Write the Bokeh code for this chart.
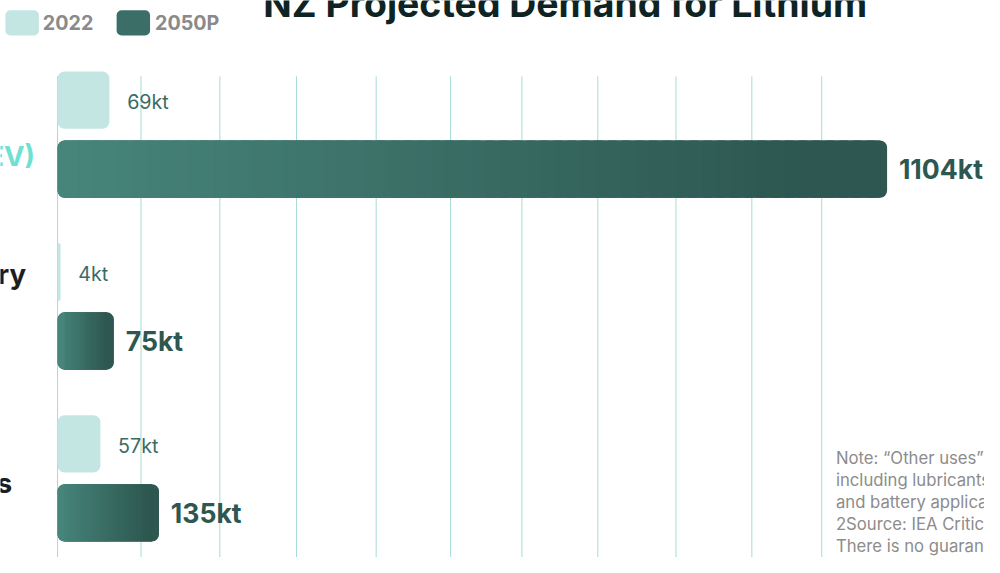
import numpy as np
from bokeh.plotting import figure
from bokeh.models import Range1d, ColumnDataSource
from bokeh.embed import file_html
from bokeh.resources import INLINE
from bokeh.core.properties import value

# ---------------- data ----------------
TITLE = "NZ Projected Demand for Lithium"
CATEGORIES = ["Electric Vehicles (EV)", "Stationary Battery", "Other uses"]
CATEGORY_COLORS = ["#6FE0D2", "#1E1E1E", "#1E1E1E"]
SERIES = ["2022", "2050P"]
DEMAND_2022 = [69, 4, 57]          # kt
DEMAND_2050 = [1104, 75, 135]      # kt
GRID_TICKS = [0, 111, 216, 318, 424, 523, 618, 719, 823, 924, 1017]
NOTE_LINES = [
    "Note: \u201cOther uses\u201d include non-battery applications",
    "including lubricants, glass and ceramics, air treatment",
    "and battery applications outside EVs and storage.",
    "2Source: IEA Critical Minerals Outlook 2024",
    "There is no guarantee that projections will eventuate.",
]

# ---------------- layout / style ----------------
W, H = 984, 557               # figure size
REF_W, REF_H = 1000, 573      # reference picture size
SX, SY = W / REF_W, H / REF_H
ZERO_X = 58                   # ref px of value 0
PX_PER_KT = 0.7636            # ref px per kt
FIRST_ROW_Y = 102.5           # ref px of first bar centre
ROW_PX = 71                   # ref px between bars of one group
GROUP_PITCH = 2.49            # rows between groups
BAR_H = 0.83                  # rows
RADIUS = 7
FONT = "Inter"
LIGHT = "#C4E6E3"
DARK_L = np.array([0x47, 0x85, 0x7B])
DARK_R = np.array([0x2D, 0x57, 0x50])
LABEL_END = [35, 26, 12]      # ref px where the category labels end
LABEL_DY = [22, -33, 5]       # ref px offset from group centre


def dx(px):
    return (px - ZERO_X) / PX_PER_KT


def dy(py):
    return (FIRST_ROW_Y - py) / ROW_PX


def fs(px):
    return f"{px * SX:.1f}px"


def mix(t):
    t = min(1.0, max(0.0, t / 0.9))
    c = DARK_L + (DARK_R - DARK_L) * t
    return "#%02x%02x%02x" % tuple(int(round(v)) for v in c)


p = figure(
    width=W, height=H, output_backend="svg", toolbar_location=None,
    x_range=Range1d(dx(0), dx(REF_W)),
    y_range=Range1d(dy(REF_H), dy(0)),
    x_axis_location=None, y_axis_location=None, min_border=0,
    outline_line_color=None, background_fill_color="white",
)
p.grid.visible = False

# grid lines
p.segment(x0=GRID_TICKS, x1=GRID_TICKS, y0=dy(78), y1=dy(600),
          line_color="#A6DBD6", line_width=1)

n = len(CATEGORIES)
y22 = [-(i * GROUP_PITCH) for i in range(n)]
y50 = [-(i * GROUP_PITCH + 1) for i in range(n)]
rad = int(round(RADIUS * SX))

# 2022 bars
p.hbar(y=y22, left=0, right=DEMAND_2022, height=BAR_H, fill_color=LIGHT,
       line_color=None, border_radius=rad)

# 2050 bars with a left-to-right gradient
p.hbar(y=y50, left=0, right=DEMAND_2050, height=BAR_H, fill_color=mix(1.0),
       line_color=None, border_radius=rad)
p.hbar(y=y50, left=0, right=[v / 2 for v in DEMAND_2050], height=BAR_H,
       fill_color=mix(0.0), line_color=None, border_radius=(rad, 0, 0, rad))
r_kt = RADIUS / PX_PER_KT
L, R, T, B, C = [], [], [], [], []
N = 60
for yy, v in zip(y50, DEMAND_2050):
    edges = np.linspace(r_kt, v - r_kt, N + 1)
    step = edges[1] - edges[0]
    for k in range(N):
        t = ((edges[k] + edges[k + 1]) / 2) / v
        L.append(edges[k])
        R.append(edges[k + 1] + (step * 0.6 if k < N - 1 else 0))
        T.append(yy + BAR_H / 2)
        B.append(yy - BAR_H / 2)
        C.append(mix(t))
p.quad(left=L, right=R, top=T, bottom=B, fill_color=C, line_color=None)

# value labels
p.text(x=DEMAND_2022, y=y22, text=[f"{v}kt" for v in DEMAND_2022],
       x_offset=18 * SX, y_offset=2, text_baseline="middle", text_align="left",
       text_font=value(FONT), text_font_size=fs(20), text_color="#3A6B64")
p.text(x=DEMAND_2050, y=y50, text=[f"{v}kt" for v in DEMAND_2050],
       x_offset=12 * SX, y_offset=0, text_baseline="middle", text_align="left",
       text_font=value(FONT), text_font_size=fs(27), text_font_style="bold",
       text_color="#2D5750")

# category labels (only their right part falls inside the picture)
cat_src = ColumnDataSource(dict(
    x=[0] * n, y=[(a + b) / 2 for a, b in zip(y22, y50)],
    text=CATEGORIES, color=CATEGORY_COLORS,
    xo=[(e - ZERO_X) * SX for e in LABEL_END],
    yo=[d * SY for d in LABEL_DY]))
p.text(x="x", y="y", text="text", source=cat_src, text_color="color",
       x_offset="xo", y_offset="yo", text_align="right", text_baseline="middle",
       text_font=value(FONT), text_font_size=fs(28), text_font_style="bold")

# title
p.text(x=[dx(267)], y=[dy(3)], text=[TITLE], text_baseline="middle",
       text_font=value(FONT), text_font_size=fs(38), text_font_style="bold",
       text_color="#0E2424")

# legend (manual)
p.quad(left=[dx(5)], right=[dx(39)], top=[dy(10)], bottom=[dy(36)],
       fill_color=LIGHT, line_color=None, border_radius=5)
p.quad(left=[dx(118)], right=[dx(152)], top=[dy(10)], bottom=[dy(36)],
       fill_color=mix(0.45), line_color=None, border_radius=5)
p.text(x=[dx(43), dx(157)], y=[dy(23), dy(23)], text=SERIES,
       text_baseline="middle", text_font=value(FONT), text_font_size=fs(20),
       text_font_style="bold", text_color="#8A8A8A")

# note
p.text(x=[dx(849)], y=[dy(460)], text=["\n".join(NOTE_LINES)],
       text_baseline="top", text_font=value(FONT), text_font_size=fs(17),
       text_line_height=1.10, text_color="#8C8C8C")

open("out.html", "w").write(file_html(p, INLINE))
